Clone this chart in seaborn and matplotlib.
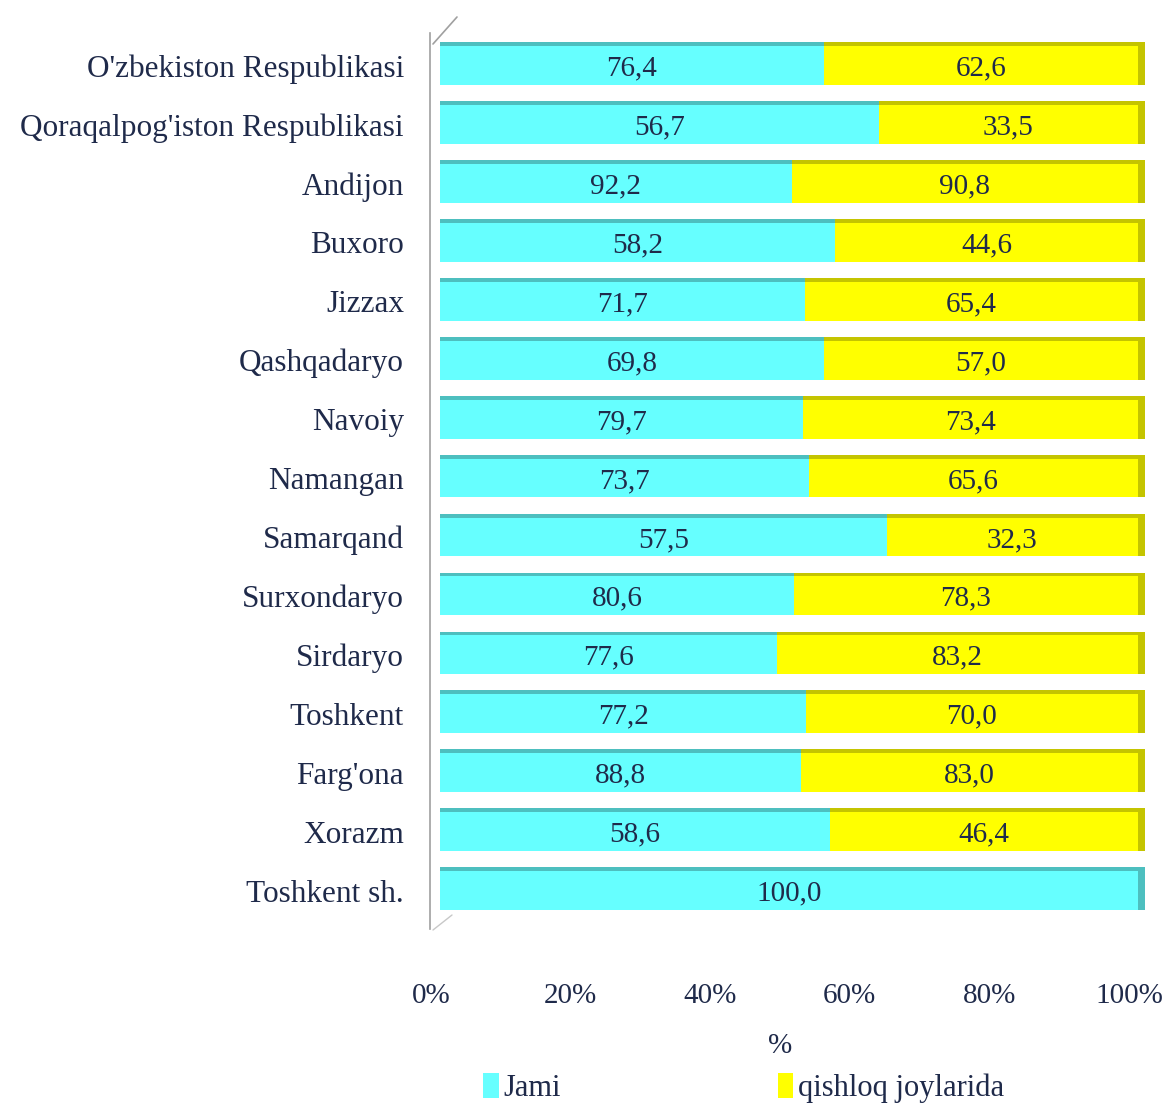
import numpy as np
import pandas as pd
import matplotlib
matplotlib.use("Agg")
import matplotlib.pyplot as plt
import matplotlib.transforms as mtransforms
from matplotlib.lines import Line2D
import seaborn as sns

regions = ["O'zbekiston Respublikasi", "Qoraqalpog'iston Respublikasi", "Andijon", "Buxoro",
           "Jizzax", "Qashqadaryo", "Navoiy", "Namangan", "Samarqand", "Surxondaryo",
           "Sirdaryo", "Toshkent", "Farg'ona", "Xorazm", "Toshkent sh."]
jami = [76.4, 56.7, 92.2, 58.2, 71.7, 69.8, 79.7, 73.7, 57.5, 80.6, 77.6, 77.2, 88.8, 58.6, 100.0]
qishloq = [62.6, 33.5, 90.8, 44.6, 65.4, 57.0, 73.4, 65.6, 32.3, 78.3, 83.2, 70.0, 83.0, 46.4, 0.0]
xticks = [0, 20, 40, 60, 80, 100]
series_names = ["Jami", "qishloq joylarida"]

CYAN = "#66FFFF"
YELLOW = "#FFFF00"
CYAN_TOP = "#4DBFBF"
YELLOW_SIDE = "#C4C400"
TXT = "#1F2A4A"

sns.set_theme(style="white")
plt.rcParams["font.family"] = ["Liberation Serif", "DejaVu Serif"]

df = pd.DataFrame({"region": regions, "jami": jami, "qishloq": qishloq})
df["total"] = df["jami"] + df["qishloq"]
df["jami_pct"] = df["jami"] / df["total"] * 100
df["full"] = 100.0

fig = plt.figure(figsize=(11.69, 11.04), dpi=100)
ax = fig.add_axes([0.3764, 0.164, 0.597, 0.806])

bw = 0.66
sns.barplot(data=df, y="region", x="full", color=YELLOW, orient="h", width=bw,
            ax=ax, saturation=1, label=series_names[1], edgecolor="none")
sns.barplot(data=df, y="region", x="jami_pct", color=CYAN, orient="h", width=bw,
            ax=ax, saturation=1, label=series_names[0], edgecolor="none")
handles, labels = ax.get_legend_handles_labels()
if ax.get_legend() is not None:
    ax.get_legend().remove()

# pseudo-3D top faces and right side
pos = np.arange(len(regions))
top_h = 0.065
ax.barh(pos - bw / 2 - top_h / 2, df["jami_pct"], height=top_h, color=CYAN_TOP, lw=0)
ax.barh(pos - bw / 2 - top_h / 2, df["full"] - df["jami_pct"], left=df["jami_pct"],
        height=top_h, color=YELLOW_SIDE, lw=0)
side_col = [YELLOW_SIDE if q > 0 else CYAN_TOP for q in qishloq]
ax.barh(pos - top_h / 2, [1.0] * len(pos), left=df["full"], height=bw + top_h,
        color=side_col, lw=0, clip_on=False)

def fmt(v):
    return f"{v:.1f}".replace(".", ",")

for i, r in df.iterrows():
    ax.text(r["jami_pct"] / 2, i + 0.05, fmt(r["jami"]), ha="center", va="center",
            fontsize=21, color=TXT)
    if r["qishloq"] > 0:
        ax.text((r["jami_pct"] + 100) / 2, i + 0.05, fmt(r["qishloq"]), ha="center",
                va="center", fontsize=21, color=TXT)

ax.set_xlim(0, 100)
ax.set_ylim(len(regions) - 0.5 + 0.05, -0.5 - 0.05)
ax.set_xticks(xticks)
ax.set_xticklabels([f"{t}%" for t in xticks], fontsize=21, color=TXT)
ax.tick_params(axis="x", pad=43, length=0)
ax.tick_params(axis="y", length=0, pad=19, labelsize=22.5, labelcolor=TXT)
shift = mtransforms.ScaledTranslation(-9 / 100, 0, fig.dpi_scale_trans)
for lab in ax.get_xticklabels():
    lab.set_transform(lab.get_transform() + shift)
ax.set_ylabel("")
ax.set_xlabel("%", fontsize=21, color=TXT, labelpad=17)
ax.xaxis.set_label_coords(0.487, -0.124)

for s in ["top", "right", "bottom"]:
    ax.spines[s].set_visible(False)
ax.spines["left"].set_color("#A0A0A0")
ax.spines["left"].set_linewidth(1.2)
ax.spines["left"].set_position(("outward", 7))
ax.spines["left"].set_bounds(len(regions) - 0.5 + 0.15, -0.5 - 0.05)

# back-plane diagonals (3D look)
W, H = 1169, 1104
fig.add_artist(Line2D([433 / W, 457 / W], [1 - 44 / H, 1 - 17 / H], color="#A0A0A0", lw=1.2))
fig.add_artist(Line2D([433 / W, 452 / W], [1 - 930 / H, 1 - 915 / H], color="#C8C8C8", lw=1.0))

order = [labels.index(series_names[0]), labels.index(series_names[1])]
fig.legend([handles[k] for k in order], [labels[k] for k in order],
           loc="lower left", bbox_to_anchor=(0.390, -0.024), ncol=2,
           frameon=False, fontsize=22, handlelength=0.5, handleheight=0.9,
           handletextpad=0.15, columnspacing=7.1, labelcolor=TXT)

fig.savefig("out.png", dpi=100)
